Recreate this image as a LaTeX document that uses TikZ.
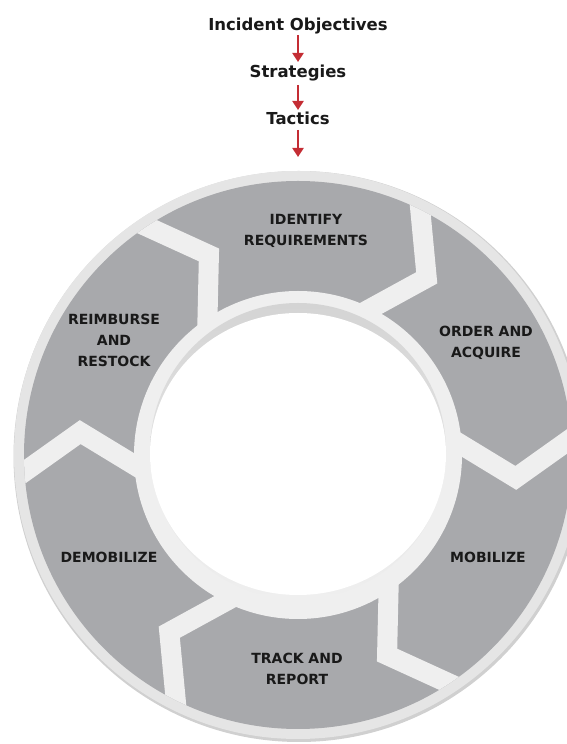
\documentclass[tikz,border=0pt]{standalone}
\usepackage{fontspec}
\setmainfont{DejaVu Sans}
\usetikzlibrary{calc,arrows.meta}
\definecolor{segfill}{RGB}{168,169,172}
\definecolor{bandcol}{RGB}{239,239,239}
\definecolor{outercol}{RGB}{229,229,229}
\definecolor{rimcol}{RGB}{208,208,208}
\definecolor{shadetop}{RGB}{212,212,212}
\definecolor{arrred}{RGB}{196,45,52}
\definecolor{txt}{RGB}{25,25,25}
\tikzset{
  lbl/.style={font=\bfseries\fontsize{14}{21}\selectfont, align=center, text=txt, inner sep=0pt},
  ttl/.style={font=\bfseries\fontsize{16.5}{20}\selectfont, text=txt, inner sep=0pt, anchor=base},
  redarr/.style={draw=arrred, line width=2.2pt, -{Triangle[width=11pt,length=9pt]}},
  sepline/.style={draw=bandcol, line width=20pt, line join=miter}
}
\begin{document}
\begin{tikzpicture}[x=1pt,y=1pt]
\useasboundingbox (0,0) rectangle (567,744);
\clip (0,0) rectangle (567,744);
\coordinate (C) at (298,289);
% outer disk with rim
\fill[rimcol] ($(C)+(1,-1.5)$) circle (285.5);
\fill[outercol] (C) circle (284);
% segment band
\fill[segfill] (C) circle (274);
\begin{scope}
\clip (C) circle (274);
\foreach \t in {0,60,...,300}{
  \coordinate (V) at ($(C)+({\t-6}:219)$);
  \coordinate (I) at ($(C)+({\t+3.5}:164)$);
  \coordinate (O) at ($(C)+({\t+3.5}:274)$);
  \draw[sepline] ($(V)!1.35!(I)$) -- (V) -- ($(V)!1.35!(O)$);
}
\end{scope}
% inner band and centre
\fill[bandcol] (C) circle (164);
\shade[top color=shadetop, bottom color=bandcol] (298,293) circle (148);
\fill[white] (298,290) ellipse [x radius=148, y radius=141];
% segment labels
\node[lbl] (ident) at (306,513) {IDENTIFY\\REQUIREMENTS};
\node[lbl] (order) at (486,401) {ORDER AND\\ACQUIRE};
\node[lbl] (mobil) at (488,187) {MOBILIZE};
\node[lbl] (track) at (297,75) {TRACK AND\\REPORT};
\node[lbl] (demob) at (109,187) {DEMOBILIZE};
\node[lbl] (reimb) at (114,404) {REIMBURSE\\AND\\RESTOCK};
% title chain
\node[ttl] (inc) at (298,713.5) {Incident Objectives};
\node[ttl] (str) at (298,666.5) {Strategies};
\node[ttl] (tac) at (298,619) {Tactics};
\coordinate (ringtop) at (298,587);
\draw[redarr] ([yshift=-4.5pt]inc.base) -- ([yshift=15.5pt]str.base);
\draw[redarr] ([yshift=-7.5pt]str.base) -- ([yshift=15pt]tac.base);
\draw[redarr] ([yshift=-5pt]tac.base) -- (ringtop);
\end{tikzpicture}
\end{document}
